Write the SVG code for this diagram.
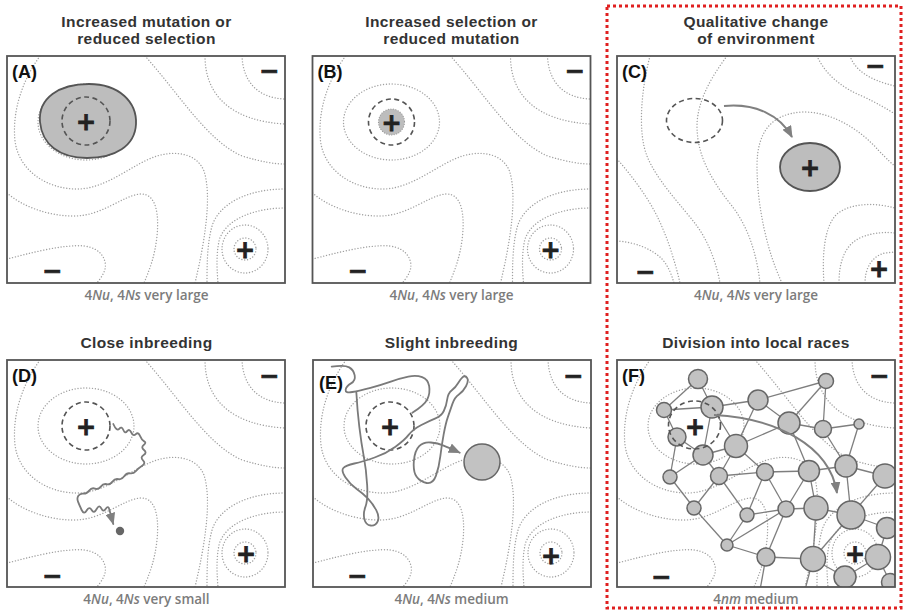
<svg xmlns="http://www.w3.org/2000/svg" xmlns:xlink="http://www.w3.org/1999/xlink" width="903" height="616" viewBox="0 0 903 616">
<style>
.ct{fill:none;stroke:#a0a0a0;stroke-width:1.4;stroke-linecap:round;stroke-dasharray:0.01 2.9}
.box{fill:none;stroke:#555;stroke-width:1.8}
.dash{fill:none;stroke:#555;stroke-width:1.6;stroke-dasharray:5 3.5}
.pm{font-family:"DejaVu Sans",sans-serif;font-weight:bold;font-size:24px;fill:#222;stroke:#222;stroke-width:0.8;text-anchor:middle}
.lbl{font-family:"Liberation Sans",Arial,sans-serif;font-weight:bold;font-size:18px;fill:#111}
.title{font-family:"Liberation Sans",Arial,sans-serif;font-weight:700;font-size:15.5px;letter-spacing:0.4px;fill:#333;text-anchor:middle}
.cap{font-family:"Open Sans",sans-serif;font-weight:600;font-size:13.5px;fill:#7c7c7c;text-anchor:middle}
.walk{fill:none;stroke:#7a7a7a;stroke-width:1.8;stroke-linejoin:round;stroke-linecap:round}
.arr{fill:none;stroke:#808080;stroke-width:2}
.node{fill:#c2c2c2;stroke:#666;stroke-width:1.5}
.edge{stroke:#7e7e7e;stroke-width:1.3}
.blob{fill:#bdbdbd;stroke:#555;stroke-width:1.8}
</style>
<defs>
<marker id="ah" markerUnits="userSpaceOnUse" markerWidth="12" markerHeight="10" refX="11" refY="5" orient="auto"><path d="M0,0 L12,5 L0,10 Z" fill="#808080"/></marker>
<clipPath id="clipBox"><rect x="0" y="0" width="278" height="227"/></clipPath>
<clipPath id="clipF"><rect x="617" y="360" width="278" height="227"/></clipPath>
<g id="land1" class="ct">
<path d="M235,0 C236,25 250,42 278,43"/>
<path d="M198,0 C198,40 225,65 278,68"/>
<path d="M138,0 C170,35 200,85 235,100 C255,106 268,108 278,108"/>
<path d="M33,0 C15,25 5,55 8,85 C12,115 40,133 70,133 C100,133 125,108 150,100 C170,94 190,98 197,115 C205,140 198,185 188,227"/>
<ellipse cx="79" cy="66" rx="48" ry="38"/>
<path d="M0,137 C15,150 40,160 67,160 C95,160 115,140 133,138 C150,137 152,160 150,180 C148,200 142,215 137,227"/>
<path d="M0,203 C20,198 55,188 77,190 C95,192 100,205 98,213 C96,220 92,224 90,227"/>
<circle cx="238" cy="193" r="11"/>
<ellipse cx="238" cy="193" rx="23" ry="24"/>
<path d="M278,133 C240,133 212,148 205,170 C200,188 200,210 200,227"/>
<path d="M278,152 C250,152 218,162 212,185 C209,200 210,215 211,227"/>
</g>
<g id="land2" class="ct">
<path d="M33,0 C25,30 20,75 30,100 C40,125 65,150 80,170 C93,188 100,210 103,227"/>
<path d="M110,0 C95,20 80,45 80,70 C80,100 95,125 115,150 C132,172 140,200 143,227"/>
<path d="M0,103 C15,120 30,140 40,160 C50,180 58,205 63,227"/>
<path d="M0,185 C18,186 35,193 45,203 C52,211 55,220 57,227"/>
<path d="M165,227 C150,195 140,150 140,110 C140,75 155,58 185,56 C215,55 245,75 262,95 C270,103 275,108 278,110"/>
<path d="M207,227 C205,200 207,170 220,158 C235,146 260,147 278,152"/>
<path d="M222,227 C222,205 228,188 245,181 C258,176 270,176 278,177"/>
<path d="M248,227 C248,212 255,200 268,197 L278,196"/>
<path d="M200,0 C208,18 225,32 245,40 C260,47 270,53 278,58"/>
<path d="M233,0 C238,14 252,24 278,30"/>
</g>
</defs>
<rect width="903" height="616" fill="#fff"/>

<rect x="607" y="6" width="294" height="602" fill="none" stroke="#e02020" stroke-width="3" stroke-dasharray="3 3"/>

<g id="panel-A">
<text class="title" x="146.5" y="26.5">Increased mutation or<tspan x="146.5" dy="17.6">reduced selection</tspan></text>
<g transform="translate(7,56)">
<use xlink:href="#land1" clip-path="url(#clipBox)"/>
<path class="blob" d="M33,66 C31,42 52,28 82,28 C112,28 130,46 129,68 C128,90 108,102 80,102 C52,102 35,88 33,66 Z"/>
<circle class="dash" cx="79" cy="65" r="24"/>
<text class="pm" x="79" y="73.6">+</text>
<text class="pm" x="262" y="22.6">−</text>
<text class="pm" x="45" y="222.6">−</text>
<text class="pm" x="238" y="201.6">+</text>
<rect class="box" width="278" height="227"/>
<text class="lbl" x="5" y="22">(A)</text>
</g>
<text class="cap" x="146.5" y="300">4<tspan font-style="italic">Nu</tspan>, 4<tspan font-style="italic">Ns</tspan> very large</text>
</g>

<g id="panel-B">
<text class="title" x="451.5" y="26.5">Increased selection or<tspan x="451.5" dy="17.6">reduced mutation</tspan></text>
<g transform="translate(312.5,56)">
<use xlink:href="#land1" clip-path="url(#clipBox)"/>
<circle cx="79" cy="66" r="13" fill="#bdbdbd" stroke="#999" stroke-width="1.2" stroke-dasharray="0.01 2.5" stroke-linecap="round"/>
<circle class="dash" cx="79" cy="66" r="23"/>
<text class="pm" x="79" y="74.6">+</text>
<text class="pm" x="262" y="22.6">−</text>
<text class="pm" x="45" y="222.6">−</text>
<text class="pm" x="238" y="201.6">+</text>
<rect class="box" width="278" height="227"/>
<text class="lbl" x="5" y="22">(B)</text>
</g>
<text class="cap" x="451.5" y="300">4<tspan font-style="italic">Nu</tspan>, 4<tspan font-style="italic">Ns</tspan> very large</text>
</g>

<g id="panel-C">
<text class="title" x="756" y="26.5">Qualitative change<tspan x="756" dy="17.6">of environment</tspan></text>
<g transform="translate(617,56)">
<use xlink:href="#land2" clip-path="url(#clipBox)"/>
<ellipse class="dash" cx="77.5" cy="64.5" rx="28" ry="22"/>
<ellipse class="blob" cx="193" cy="111" rx="30" ry="24"/>
<text class="pm" x="193" y="119.6">+</text>
<text class="pm" x="258" y="17.6">−</text>
<text class="pm" x="28" y="223.6">−</text>
<text class="pm" x="262" y="220.6">+</text>
<rect class="box" width="278" height="227"/>
<text class="lbl" x="5" y="22">(C)</text>
</g>
<path class="arr" d="M724,106 C755,103 780,115 792,137" marker-end="url(#ah)"/>
<text class="cap" x="756" y="300">4<tspan font-style="italic">Nu</tspan>, 4<tspan font-style="italic">Ns</tspan> very large</text>
</g>

<g id="panel-D">
<text class="title" x="146.5" y="348">Close inbreeding</text>
<g transform="translate(7,360)">
<use xlink:href="#land1" clip-path="url(#clipBox)"/>
<circle class="dash" cx="79" cy="66" r="24"/>
<text class="pm" x="79" y="74.6">+</text>
<text class="pm" x="262" y="23.6">−</text>
<text class="pm" x="45" y="223.6">−</text>
<text class="pm" x="239" y="201.6">+</text>
<rect class="box" width="278" height="227"/>
<text class="lbl" x="5" y="22">(D)</text>
</g>
<path class="walk" d="M113.3,424 Q116.7,431.7 119.2,428.85 Q121.7,426 123.35,430 Q125,434 127.15,431.15 Q129.3,428.3 131.3,432.5 Q133.3,436.7 135.8,434.2 Q138.3,431.7 140,435.85 Q141.7,440 144.2,441.35 Q146.7,442.7 143.7,445 Q140.7,447.3 144,450 Q147.3,452.7 143.65,455 Q140,457.3 143,460.3 Q146,463.3 142.15,465.8 Q138.3,468.3 135.8,471.15 Q133.3,474 130,473.35 Q126.7,472.7 124.2,476.35 Q121.7,480 118.35,479.15 Q115,478.3 112.5,481.65 Q110,485 106.65,484.15 Q103.3,483.3 100.8,486.65 Q98.3,490 95,488.65 Q91.7,487.3 89.2,490.65 Q86.7,494 83.35,493.65 Q80,493.3 78.35,495.8 Q76.7,498.3 78,501.65 Q79.3,505 81.65,510 Q84,515 86.65,510.5 Q89.3,506 91.65,510 Q94,514 96.65,509 Q99.3,504 101.3,508.35 Q103.3,512.7 105.8,508.85 Q108.3,505 109.5,510 Q110.7,515 113.3,524" marker-end="url(#ah)"/>
<circle cx="120" cy="531" r="4.2" fill="#666"/>
<text class="cap" x="146.5" y="604">4<tspan font-style="italic">Nu</tspan>, 4<tspan font-style="italic">Ns</tspan> very small</text>
</g>

<g id="panel-E">
<text class="title" x="451.5" y="348">Slight inbreeding</text>
<g transform="translate(313,360)">
<use xlink:href="#land1" clip-path="url(#clipBox)"/>
<circle class="dash" cx="77" cy="66" r="24"/>
<text class="pm" x="77" y="74.6">+</text>
<text class="pm" x="260" y="23.6">−</text>
<text class="pm" x="44" y="223.6">−</text>
<text class="pm" x="238" y="203.6">+</text>
<rect class="box" width="278" height="227"/>
<text class="lbl" x="6" y="29">(E)</text>
</g>
<path class="walk" d="M331.7,366.7 Q344.7,364.7 349.2,367.35 Q353.7,370 354.7,375.35 Q355.7,380.7 351,383.35 Q346.3,386 345.65,389.65 Q345,393.3 352.35,392 Q359.7,390.7 370.5,387.85 Q381.3,385 390.8,381.65 Q400.3,378.3 408.3,376.65 Q416.3,375 422.15,377.15 Q428,379.3 429.15,386 Q430.3,392.7 427.5,398.85 Q424.7,405 412.3,412.7"/>
<path class="walk" d="M356.3,391.7 Q357.3,410 359.3,426.65 Q361.3,443.3 363.8,456.65 Q366.3,470 367.15,485 Q368,500 365.5,506.65 Q363,513.3 364.35,519.15 Q365.7,525 370.7,525.5 Q375.7,526 377.7,521.35 Q379.7,516.7 376.35,510.35 Q373,504 368,498.65 Q363,493.3 356.35,488.65 Q349.7,484 345.35,477.35 Q341,470.7 343.35,468 Q345.7,465.3 354.35,463.5 Q363,461.7 374.65,457.5 Q386.3,453.3 395.5,446.65 Q404.7,440 408.85,434.65 Q413,429.3 421.35,425 Q429.7,420.7 435.5,418.35 Q441.3,416 443.8,411 Q446.3,406 447.15,399.65 Q448,393.3 451.85,390.3 Q455.7,387.3 458,383.3 Q460.3,379.3 462.65,377.15 Q465,375 467,377.85 Q469,380.7 466,386.2 Q463,391.7 458.85,394.5 Q454.7,397.3 452.5,403.65 Q450.3,410 448,416.65 Q445.7,423.3 443.7,434.15 Q441.7,445 440.35,456.15 Q439,467.3 436,475.65 Q433,484 426.65,483 Q420.3,482 416.65,476.85 Q413,471.7 413.85,461.2 Q414.7,450.7 419.2,446.2 Q423.7,441.7 430.85,442.5 Q438,443.3 443,445.3 Q448,447.3 459.7,452.7" marker-end="url(#ah)"/>
<circle class="node" cx="482" cy="462" r="18"/>
<text class="cap" x="451.5" y="604">4<tspan font-style="italic">Nu</tspan>, 4<tspan font-style="italic">Ns</tspan> medium</text>
</g>

<g id="panel-F">
<text class="title" x="756" y="348">Division into local races</text>
<g transform="translate(617,360)">
<use xlink:href="#land1" clip-path="url(#clipBox)"/>
</g>
<g clip-path="url(#clipF)">
<g id="f-edges" class="edge">
<line x1="698" y1="379" x2="664" y2="410"/>
<line x1="698" y1="379" x2="712" y2="407"/>
<line x1="664" y1="410" x2="712" y2="407"/>
<line x1="712" y1="407" x2="758" y2="400"/>
<line x1="664" y1="410" x2="677" y2="437"/>
<line x1="712" y1="407" x2="703" y2="455"/>
<line x1="712" y1="407" x2="736" y2="446"/>
<line x1="677" y1="437" x2="703" y2="455"/>
<line x1="677" y1="437" x2="670" y2="477"/>
<line x1="703" y1="455" x2="736" y2="446"/>
<line x1="703" y1="455" x2="670" y2="477"/>
<line x1="703" y1="455" x2="719" y2="476"/>
<line x1="758" y1="400" x2="736" y2="446"/>
<line x1="736" y1="446" x2="719" y2="476"/>
<line x1="736" y1="446" x2="765" y2="472"/>
<line x1="736" y1="446" x2="789" y2="423"/>
<line x1="670" y1="477" x2="694" y2="508"/>
<line x1="719" y1="476" x2="694" y2="508"/>
<line x1="719" y1="476" x2="765" y2="472"/>
<line x1="719" y1="476" x2="747" y2="515"/>
<line x1="694" y1="508" x2="727" y2="545"/>
<line x1="747" y1="515" x2="727" y2="545"/>
<line x1="727" y1="545" x2="766" y2="557"/>
<line x1="727" y1="545" x2="786" y2="509"/>
<line x1="747" y1="515" x2="786" y2="509"/>
<line x1="747" y1="515" x2="765" y2="472"/>
<line x1="758" y1="400" x2="826" y2="381"/>
<line x1="758" y1="400" x2="789" y2="423"/>
<line x1="826" y1="381" x2="789" y2="423"/>
<line x1="826" y1="381" x2="823" y2="429"/>
<line x1="789" y1="423" x2="823" y2="429"/>
<line x1="823" y1="429" x2="859" y2="424"/>
<line x1="859" y1="424" x2="846" y2="466"/>
<line x1="823" y1="429" x2="846" y2="466"/>
<line x1="789" y1="423" x2="809" y2="471"/>
<line x1="765" y1="472" x2="809" y2="471"/>
<line x1="809" y1="471" x2="846" y2="466"/>
<line x1="846" y1="466" x2="885" y2="476"/>
<line x1="765" y1="472" x2="786" y2="509"/>
<line x1="809" y1="471" x2="786" y2="509"/>
<line x1="809" y1="471" x2="816" y2="508"/>
<line x1="786" y1="509" x2="816" y2="508"/>
<line x1="846" y1="466" x2="851" y2="515"/>
<line x1="816" y1="508" x2="851" y2="515"/>
<line x1="851" y1="515" x2="887" y2="528"/>
<line x1="885" y1="476" x2="851" y2="515"/>
<line x1="816" y1="508" x2="813" y2="559"/>
<line x1="786" y1="509" x2="766" y2="557"/>
<line x1="766" y1="557" x2="813" y2="559"/>
<line x1="851" y1="515" x2="813" y2="559"/>
<line x1="813" y1="559" x2="845" y2="577"/>
<line x1="878" y1="557" x2="845" y2="577"/>
<line x1="878" y1="557" x2="890" y2="582"/>
<line x1="887" y1="528" x2="878" y2="557"/>
<line x1="766" y1="557" x2="760" y2="590"/>
<line x1="813" y1="559" x2="805" y2="590"/>
</g>
<g id="f-nodes">
<circle class="node" cx="698" cy="379" r="9.5"/>
<circle class="node" cx="664" cy="410" r="7.5"/>
<circle class="node" cx="712" cy="407" r="11"/>
<circle class="node" cx="758" cy="400" r="10"/>
<circle class="node" cx="826" cy="381" r="7.5"/>
<circle class="node" cx="677" cy="437" r="9"/>
<circle class="node" cx="703" cy="455" r="10"/>
<circle class="node" cx="736" cy="446" r="11.5"/>
<circle class="node" cx="789" cy="423" r="11"/>
<circle class="node" cx="823" cy="429" r="8.5"/>
<circle class="node" cx="859" cy="424" r="5"/>
<circle class="node" cx="670" cy="477" r="7"/>
<circle class="node" cx="719" cy="476" r="8.5"/>
<circle class="node" cx="765" cy="472" r="8.5"/>
<circle class="node" cx="809" cy="471" r="10.5"/>
<circle class="node" cx="846" cy="466" r="11"/>
<circle class="node" cx="885" cy="476" r="12"/>
<circle class="node" cx="694" cy="508" r="7"/>
<circle class="node" cx="747" cy="515" r="7"/>
<circle class="node" cx="786" cy="509" r="8"/>
<circle class="node" cx="816" cy="508" r="12"/>
<circle class="node" cx="851" cy="515" r="14"/>
<circle class="node" cx="887" cy="528" r="10.5"/>
<circle class="node" cx="727" cy="545" r="6"/>
<circle class="node" cx="766" cy="557" r="9"/>
<circle class="node" cx="813" cy="559" r="12.5"/>
<circle class="node" cx="878" cy="557" r="12.5"/>
<circle class="node" cx="845" cy="577" r="11"/>
<circle class="node" cx="890" cy="582" r="8.5"/>
</g>
</g>
<ellipse class="dash" cx="694.5" cy="425" rx="26" ry="24"/>
<text class="pm" x="695" y="434.6">+</text>
<text class="pm" x="855" y="561.6">+</text>
<text class="pm" x="879" y="383.6">−</text>
<text class="pm" x="661" y="584.6">−</text>
<path class="arr" d="M714,415 C775,418 830,445 837,493" marker-end="url(#ah)"/>
<rect class="box" x="617" y="360" width="278" height="227"/>
<text class="lbl" x="622" y="382">(F)</text>
<text class="cap" x="756" y="604">4<tspan font-style="italic">nm</tspan> medium</text>
</g>
</svg>
